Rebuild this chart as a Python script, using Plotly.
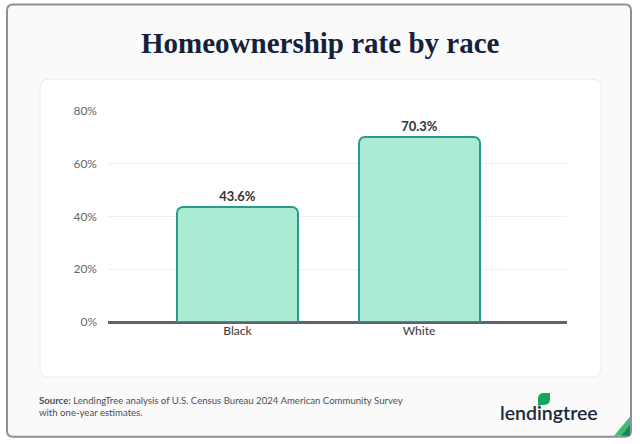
import plotly.graph_objects as go

categories = ["Black", "White"]
rates = [43.6, 70.3]
y_ticks = [0, 20, 40, 60, 80]
y_tick_labels = ["0%", "20%", "40%", "60%", "80%"]

W, H = 640, 444
L, R = 108, 567
T, B = 110.7, 322

def px(x):
    return (x - L) / (R - L)

def py(y):
    return (B - y) / (B - T)

def rrect(x0, y0, x1, y1, r):
    X0, X1 = px(x0), px(x1)
    Y0, Y1 = py(y0), py(y1)
    rx = r / (R - L)
    ry = r / (B - T)
    return (f"M {X0+rx},{Y0} L {X1-rx},{Y0} Q {X1},{Y0} {X1},{Y0-ry} "
            f"L {X1},{Y1+ry} Q {X1},{Y1} {X1-rx},{Y1} L {X0+rx},{Y1} "
            f"Q {X0},{Y1} {X0},{Y1+ry} L {X0},{Y0-ry} Q {X0},{Y0} {X0+rx},{Y0} Z")

fig = go.Figure()
fig.add_trace(go.Bar(
    x=categories, y=rates, width=0.667,
    marker=dict(color="#AAEBD3", line=dict(color="#2A9A8E", width=2)),
    text=[f"{v:.1f}%" for v in rates], textposition="outside",
    textfont=dict(family="Lato", size=13, color="#333333", weight="bold"),
    cliponaxis=False, hoverinfo="skip",
))

shapes = [
    dict(type="path", xref="paper", yref="paper", path=rrect(7, 4, 631, 437, 6),
         fillcolor="#FAFAFB", line=dict(color="#8C9098", width=2), layer="below"),
    dict(type="path", xref="paper", yref="paper", path=rrect(40, 79, 601, 377, 8),
         fillcolor="#FFFFFF", line=dict(color="#ECECEE", width=1), layer="below"),
    # green corner stripes
    dict(type="path", xref="paper", yref="paper",
         path=f"M {px(614)},{py(436)} L {px(630)},{py(417)} L {px(630)},{py(436)} Z",
         fillcolor="#3DBE74", line=dict(width=0)),
    dict(type="path", xref="paper", yref="paper",
         path=f"M {px(621)},{py(436)} L {px(630)},{py(425)} L {px(630)},{py(436)} Z",
         fillcolor="#158A5A", line=dict(width=0)),
    # leaf
    dict(type="path", xref="paper", yref="paper",
         path=(f"M {px(538)},{py(406)} L {px(538)},{py(399)} Q {px(538)},{py(393)} {px(544)},{py(393)} "
               f"L {px(550)},{py(393)} L {px(550)},{py(399)} Q {px(550)},{py(405)} {px(544)},{py(405)} "
               f"L {px(541)},{py(405)} Z"),
         fillcolor="#14A561", line=dict(width=0)),
]

annotations = [
    dict(text="<b>Homeownership rate by race</b>", x=px(320), y=py(43), xref="paper", yref="paper",
         xanchor="center", yanchor="middle", showarrow=False,
         font=dict(family="Liberation Serif", size=29, color="#14213A")),
    dict(text="<b>Source:</b> LendingTree analysis of U.S. Census Bureau 2024 American Community Survey<br>with one-year estimates.",
         x=px(37), y=py(393), xref="paper", yref="paper", xanchor="left", yanchor="top",
         align="left", showarrow=False, font=dict(family="Lato", size=9.6, color="#4A4F57")),
    dict(text="lendingtree", x=px(548.5), y=py(413), xref="paper", yref="paper",
         xanchor="center", yanchor="middle", showarrow=False,
         font=dict(family="Lato", size=19.5, color="#1B2A3A", weight=600)),
]

fig.update_layout(
    width=W, height=H,
    margin=dict(l=L, r=W - R, t=T, b=H - B),
    paper_bgcolor="#FFFFFF", plot_bgcolor="rgba(0,0,0,0)",
    showlegend=False, shapes=shapes, annotations=annotations,
    bargap=0,
)
fig.update_xaxes(range=[-0.7135, 1.815], showgrid=False, showline=False, zeroline=False,
                 ticks="", tickfont=dict(family="Lato", size=12, color="#444444", weight=500))
fig.update_yaxes(range=[0, 80], tickvals=y_ticks, ticktext=y_tick_labels,
                 showgrid=True, gridcolor="#EFEFF1", gridwidth=1,
                 zeroline=True, zerolinecolor="#5B6470", zerolinewidth=2.5,
                 showline=False, ticks="", ticklabelstandoff=10,
                 tickfont=dict(family="Lato", size=12, color="#666666"))
fig.update_traces(marker_cornerradius=6)

fig.write_html("out.html")
